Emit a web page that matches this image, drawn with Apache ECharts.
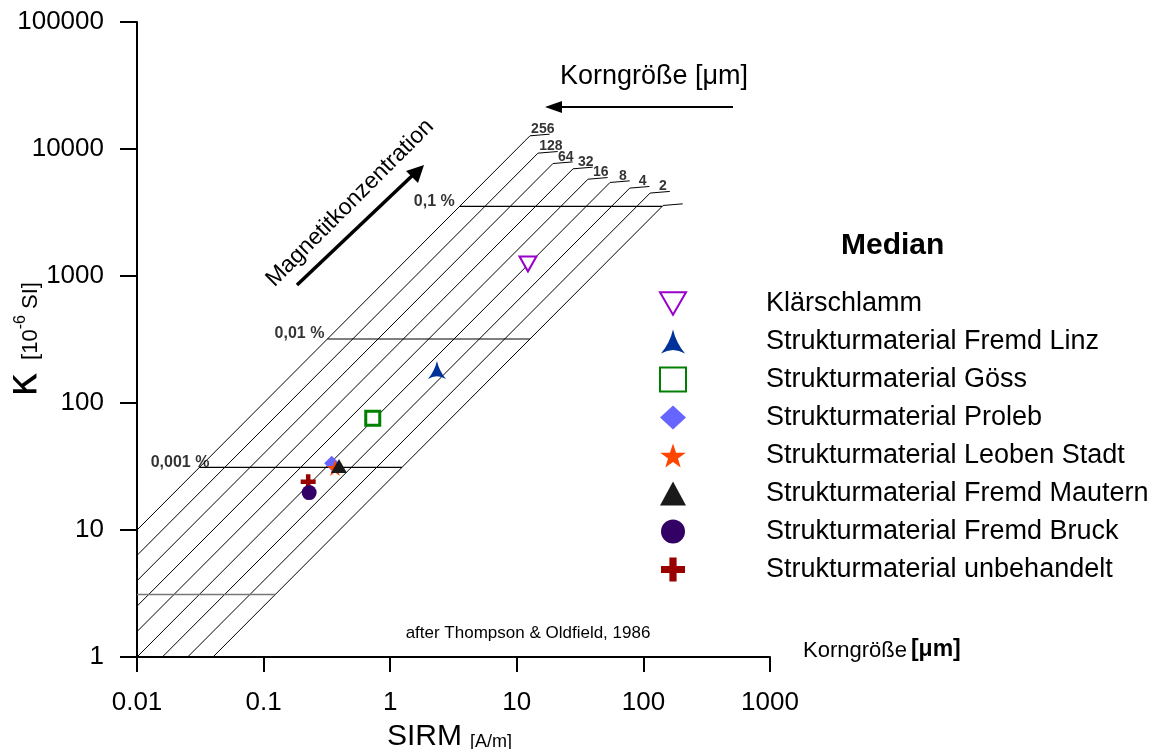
<!DOCTYPE html>
<html>
<head>
<meta charset="utf-8">
<script src="https://cdn.jsdelivr.net/npm/echarts@6/dist/echarts.min.js"></script>
<style>
html,body{margin:0;padding:0;background:#fff;}
#chart{width:1153px;height:749px;}
</style>
</head>
<body>
<div id="chart"></div>
<script>
// ---------- data ----------
const xTickLabels = ['0.01', '0.1', '1', '10', '100', '1000'];
const yTickLabels = ['1', '10', '100', '1000', '10000', '100000'];

// grain-size reference lines (Thompson & Oldfield): log10(kappa/SIRM) and SIRM at the top end
const grainLabels = ['256', '128', '64', '32', '16', '8', '4', '2', ''];
const grainLogRatio = [3.0, 2.8, 2.6, 2.4, 2.2, 2.0, 1.8, 1.6, 1.4];
const grainTopSirm = [12.7, 14.7, 19.3, 27.8, 36.5, 54.5, 78, 113, 143];

// magnetite concentration lines: kappa level and label
const concLabels = ['0,1 %', '0,01 %', '0,001 %', ''];
const concKappa = [3540, 319, 31.1, 3.1];

// sample medians
const sampleNames = ['Klärschlamm', 'Strukturmaterial Fremd Linz', 'Strukturmaterial Göss',
  'Strukturmaterial Proleb', 'Strukturmaterial Leoben Stadt', 'Strukturmaterial Fremd Mautern',
  'Strukturmaterial Fremd Bruck', 'Strukturmaterial unbehandelt'];
const sampleSirm = [12.25, 2.34, 0.728, 0.345, 0.366, 0.394, 0.229, 0.225];
const sampleKappa = [1243, 182, 75.8, 33.5, 30.8, 31.9, 19.7, 24.0];

// ---------- styles ----------
const FONT = 'Liberation Sans, Arial, Helvetica, sans-serif';
const X_MIN = 0.01, X_MAX = 1000, Y_MIN = 1, Y_MAX = 100000;
const triDown = 'path://M0,0 L20,0 L10,17.3 Z';
const arrowUp = 'path://M10,0 Q12.5,11 20,20 Q10,14 0,20 Q7.5,11 10,0 Z';
const star = 'path://M50,0 L61.8,35.1 L98.9,35.1 L69,57.3 L79.4,91.9 L50,71 L20.6,91.9 L31,57.3 L1.1,35.1 L38.2,35.1 Z';
const cross = 'path://M3.5,0 H6.5 V3.5 H10 V6.5 H6.5 V10 H3.5 V6.5 H0 V3.5 H3.5 Z';
const sampleStyles = [
  {symbol: triDown, size: [17, 15], itemStyle: {color: '#ffffff', borderColor: '#9900CC', borderWidth: 2, opacity: 1}, z: 6},
  {symbol: arrowUp, size: [18, 18], itemStyle: {color: '#003399', opacity: 1}, z: 6},
  {symbol: 'rect', size: [14, 14], itemStyle: {color: '#ffffff', borderColor: '#008000', borderWidth: 3, opacity: 1}, z: 6},
  {symbol: 'diamond', size: [15, 15], itemStyle: {color: '#6666FF', opacity: 1}, z: 5},
  {symbol: star, size: [16, 16], itemStyle: {color: '#FF4500', opacity: 1}, z: 5},
  {symbol: 'triangle', size: [16, 14], itemStyle: {color: '#1a1a1a', opacity: 1}, z: 6},
  {symbol: 'circle', size: [15, 15], itemStyle: {color: '#330066', opacity: 1}, z: 7},
  {symbol: cross, size: [15, 15], itemStyle: {color: '#990000', opacity: 1}, z: 6}
];
const UNDER_X = 1.43, UNDER_Y = 1.03;   // short label underline at the top of each grain line

const series = [];

// grain-size diagonals
grainLabels.forEach((g, i) => {
  const r = Math.pow(10, grainLogRatio[i]);
  let x0 = X_MIN, y0 = X_MIN * r;
  if (y0 < Y_MIN) { y0 = Y_MIN; x0 = Y_MIN / r; }
  const xt = grainTopSirm[i], yt = xt * r;
  series.push({
    type: 'line', silent: true, symbol: 'none', z: 2,
    lineStyle: {color: '#000', width: 1},
    data: [[x0, y0], [xt, yt], [xt * UNDER_X, yt * UNDER_Y]]
  });
});
series.push({
  type: 'scatter', silent: true, symbolSize: 0, z: 3,
  data: grainLabels.map((g, i) => {
    const r = Math.pow(10, grainLogRatio[i]);
    const xt = grainTopSirm[i], yt = xt * r;
    return {value: [xt * Math.sqrt(UNDER_X), yt * Math.sqrt(UNDER_Y)], name: g};
  }).filter(d => d.name !== ''),
  label: {show: true, position: 'top', distance: -1, offset: [3, 0], formatter: p => p.name,
    fontFamily: FONT, fontSize: 14, fontWeight: 'bold', color: '#000'}
});

// concentration lines
const rMax = Math.pow(10, grainLogRatio[0]);
const rMin = Math.pow(10, grainLogRatio[grainLogRatio.length - 1]);
concKappa.forEach((k, i) => {
  const xs = Math.max(X_MIN, k / rMax), xe = k / rMin;
  series.push({
    type: 'line', silent: true, symbol: 'none', z: 2,
    lineStyle: {color: concLabels[i] ? '#000' : '#777', width: concLabels[i] ? 1.2 : 1.5},
    data: [[xs, k], [xe, k]]
  });
});
const concLabelOffsets = [[-3, -5], [-1, -5], [12, -5]];
series.push({
  type: 'scatter', silent: true, symbolSize: 0, z: 3,
  data: concKappa.map((k, i) => ({value: [Math.max(X_MIN, k / rMax), k], name: concLabels[i],
      label: {offset: concLabelOffsets[i] || [0, 0]}})).filter(d => d.name !== ''),
  label: {show: true, position: 'left', distance: 2, formatter: p => p.name,
    fontFamily: FONT, fontSize: 16, fontWeight: 'bold', color: '#000'}
});

// samples
sampleNames.forEach((n, i) => {
  const s = sampleStyles[i];
  series.push({
    name: n, type: 'scatter', symbol: s.symbol, symbolSize: s.size, z: s.z,
    itemStyle: s.itemStyle,
    data: [[sampleSirm[i], sampleKappa[i]]]
  });
});

const chart = echarts.init(document.getElementById('chart'), null, {renderer: 'canvas'});
chart.setOption({
  animation: false,
  backgroundColor: '#fff',
  textStyle: {fontFamily: FONT},
  grid: {left: 137, top: 22, width: 633, height: 635, containLabel: false, outerBoundsMode: 'none'},
  title: {text: 'Median', left: 836, top: 226,
    textStyle: {fontFamily: FONT, fontSize: 30, fontWeight: 'bold', color: '#000'}},
  legend: {
    orient: 'vertical', left: 654, top: 285, itemWidth: 26, itemHeight: 24, itemGap: 11,
    selectedMode: false,
    textStyle: {fontFamily: FONT, fontSize: 27, color: '#000', lineHeight: 24, padding: [0, 0, 0, 75]},
    data: sampleNames.map(n => ({name: n}))
  },
  xAxis: {
    type: 'log', logBase: 10, min: X_MIN, max: X_MAX,
    name: '{a|SIRM}{b|[A/m]}', nameLocation: 'middle', nameGap: 65, nameMoveOverlap: false,
    nameTextStyle: {padding: [0, 8, 0, 0], rich: {
      a: {fontFamily: FONT, fontSize: 30, color: '#000', verticalAlign: 'bottom'},
      b: {fontFamily: FONT, fontSize: 18, color: '#000', verticalAlign: 'bottom', padding: [0, 0, 1, 8]}
    }},
    axisLine: {show: true, onZero: false, lineStyle: {color: '#000', width: 2}},
    axisTick: {show: true, length: 15, lineStyle: {color: '#000', width: 2}},
    minorTick: {show: false},
    splitLine: {show: false},
    axisLabel: {margin: 33, fontFamily: FONT, fontSize: 26, color: '#000',
      formatter: v => xTickLabels[Math.round(Math.log10(v)) + 2]}
  },
  yAxis: {
    type: 'log', logBase: 10, min: Y_MIN, max: Y_MAX,
    name: '{k|κ}{s|  [10}{sup|-6}{s| SI]}', nameLocation: 'middle', nameGap: 91, nameRotate: 90,
    nameMoveOverlap: false,
    nameTextStyle: {padding: [0, 0, 0, 0], rich: {
      k: {fontFamily: 'DejaVu Sans', fontSize: 42, color: '#000', verticalAlign: 'bottom'},
      s: {fontFamily: FONT, fontSize: 22, color: '#000', verticalAlign: 'bottom', padding: [0, 0, 4, 0]},
      sup: {fontFamily: FONT, fontSize: 16, color: '#000', verticalAlign: 'bottom', padding: [0, 0, 17, 0]}
    }},
    axisLine: {show: true, onZero: false, lineStyle: {color: '#000', width: 2}},
    axisTick: {show: true, length: 17, lineStyle: {color: '#000', width: 2}},
    minorTick: {show: false},
    splitLine: {show: false},
    axisLabel: {margin: 33, fontFamily: FONT, fontSize: 26, color: '#000',
      formatter: v => yTickLabels[Math.round(Math.log10(v))]}
  },
  graphic: [
    {type: 'text', left: 560, top: 63, style: {text: 'Korngröße [μm]', fontFamily: FONT, fontSize: 27, fill: '#000'}},
    {type: 'line', shape: {x1: 558, y1: 107, x2: 733, y2: 107}, style: {stroke: '#000', lineWidth: 2}},
    {type: 'polygon', shape: {points: [[545, 107], [562, 101], [562, 113]]}, style: {fill: '#000'}},
    {type: 'text', x: 350, y: 203, rotation: Math.PI / 4,
      style: {text: 'Magnetitkonzentration', fontFamily: FONT, fontSize: 23, fill: '#000', align: 'center', verticalAlign: 'middle'}},
    {type: 'line', shape: {x1: 297, y1: 285, x2: 414, y2: 174}, style: {stroke: '#000', lineWidth: 3.5}},
    {type: 'polygon', shape: {points: [[424, 165], [406, 171], [418, 183]]}, style: {fill: '#000'}},
    {type: 'text', x: 528, y: 633, style: {text: 'after Thompson & Oldfield, 1986', fontFamily: FONT, fontSize: 17, fill: '#000', align: 'center', verticalAlign: 'middle'}},
    {type: 'text', x: 803, y: 650, style: {
      text: '{a|Korngröße}{b|[μm]}', verticalAlign: 'middle',
      rich: {
        a: {fontFamily: FONT, fontSize: 22, fill: '#000', verticalAlign: 'bottom', padding: [0, 4, 0, 0]},
        b: {fontFamily: FONT, fontSize: 23, fontWeight: 'bold', fill: '#000', verticalAlign: 'bottom'}
      }}}
  ],
  series: series
});
</script>
</body>
</html>
